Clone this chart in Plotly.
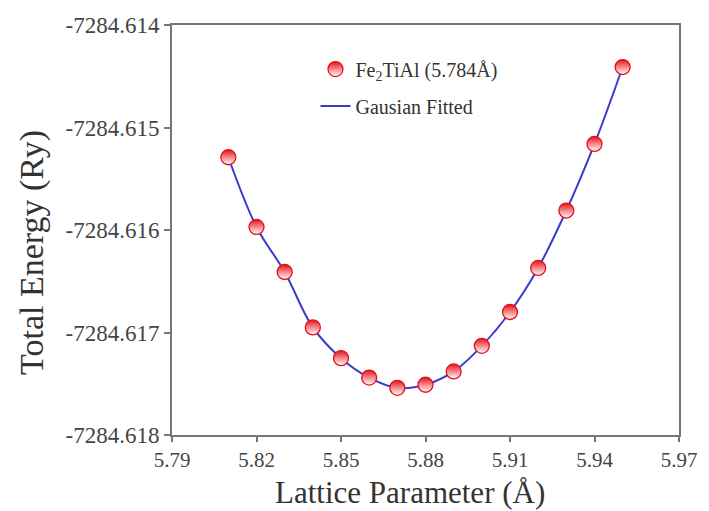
import plotly.graph_objects as go

lattice = [5.81, 5.82, 5.83, 5.84, 5.85, 5.86, 5.87, 5.88, 5.89, 5.90, 5.91, 5.92, 5.93, 5.94, 5.95]
energy = [-7284.61529, -7284.61597, -7284.61641, -7284.61695, -7284.61725, -7284.61744,
          -7284.61754, -7284.61751, -7284.61738, -7284.61713, -7284.61680, -7284.61637,
          -7284.61581, -7284.61516, -7284.61441]

x_ticks = [5.79, 5.82, 5.85, 5.88, 5.91, 5.94, 5.97]
x_tick_text = ["5.79", "5.82", "5.85", "5.88", "5.91", "5.94", "5.97"]
y_ticks = [-7284.614, -7284.615, -7284.616, -7284.617, -7284.618]
y_tick_text = ["-7284.614", "-7284.615", "-7284.616", "-7284.617", "-7284.618"]

FONT = "Liberation Serif"
AX = "#767676"
TXT = "#333333"

fig = go.Figure()
fig.add_trace(go.Scatter(
    x=lattice, y=energy, mode="lines", name="Gausian Fitted",
    line=dict(color="#3c3ccc", width=2, shape="spline", smoothing=1.0),
    legendrank=2, legendgroup="b",
))
fig.add_trace(go.Scatter(
    x=lattice, y=energy, mode="markers", name="Fe<sub>2</sub>TiAl (5.784Å)",
    marker=dict(symbol="circle", size=15, color="#e8101a",
                gradient=dict(type="vertical", color="#ffffff"),
                line=dict(color="#e3101a", width=1.3)),
    legendrank=1, legendgroup="a",
))

fig.update_layout(
    width=709, height=511,
    margin=dict(l=172, r=23, t=25, b=76),
    paper_bgcolor="white", plot_bgcolor="white",
    font=dict(family=FONT, color=TXT),
    showlegend=True,
    legend=dict(x=0.283, y=0.94, xanchor="left", yanchor="top",
                bgcolor="rgba(0,0,0,0)", font=dict(family=FONT, size=20, color=TXT),
                tracegroupgap=8),
    annotations=[
        dict(text="Total Energy (Ry)", xref="paper", yref="paper",
             x=(30 - 172) / 514, y=(435 - 252) / 410, xanchor="center", yanchor="middle",
             textangle=-90, showarrow=False, font=dict(family=FONT, size=34, color=TXT)),
        dict(text="Lattice Parameter (Å)", xref="paper", yref="paper",
             x=(413 - 172) / 514, y=(435 - 493) / 410, xanchor="center", yanchor="middle",
             showarrow=False, font=dict(family=FONT, size=31, color=TXT)),
    ],
)
fig.update_xaxes(
    range=[5.79, 5.97], tickvals=x_ticks, ticktext=x_tick_text,
    showgrid=False, zeroline=False, showline=True, linecolor=AX, linewidth=2, mirror=True,
    ticks="outside", ticklen=5, tickwidth=1.5, tickcolor=AX,
    tickfont=dict(family=FONT, size=21, color="#444444"),
)
fig.update_yaxes(
    range=[-7284.618, -7284.614], tickvals=y_ticks, ticktext=y_tick_text,
    showgrid=False, zeroline=False, showline=True, linecolor=AX, linewidth=2, mirror=True,
    ticks="outside", ticklen=6, tickwidth=1.5, tickcolor=AX,
    tickfont=dict(family=FONT, size=23, color="#444444"),
)

fig.write_html("out.html")
